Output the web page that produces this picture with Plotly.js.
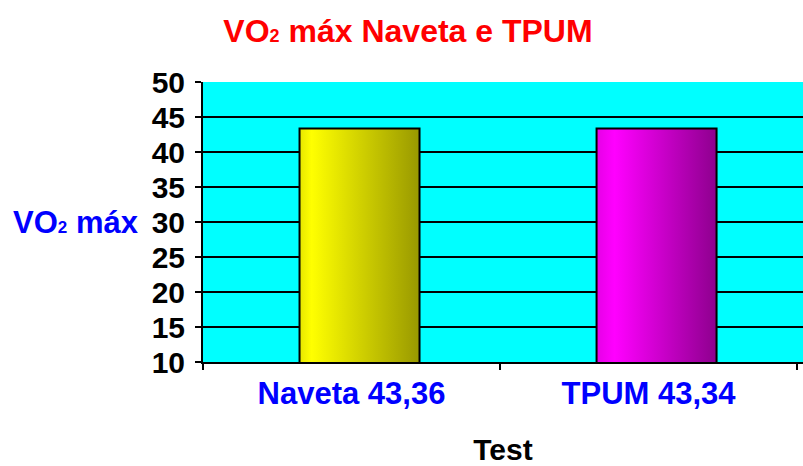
<!DOCTYPE html>
<html>
<head>
<meta charset="utf-8">
<script src="https://cdn.plot.ly/plotly-3.0.1.min.js"></script>
<style>html,body{margin:0;padding:0;background:#fff;}#chart{width:803px;height:466px;}</style>
</head>
<body>
<div id="chart"></div>
<script>
// Data
const categories = ["Naveta 43,36", "TPUM 43,34"];
const values = [43.36, 43.34];
const yTickVals = [10, 15, 20, 25, 30, 35, 40, 45, 50];
const barColors = ["#FFFF00", "#FF00FF"];

const FONT = "Liberation Sans, Arial, sans-serif";

const trace = {
  type: "bar",
  x: categories,
  y: values,
  width: 0.404,
  offset: -0.175,
  marker: { color: barColors, line: { color: "#000000", width: 2 } },
  hoverinfo: "none"
};

const layout = {
  width: 803, height: 466,
  margin: { l: 203, r: 0, t: 82, b: 104, pad: 0 },
  paper_bgcolor: "#FFFFFF",
  plot_bgcolor: "#00FFFF",
  showlegend: false,
  bargap: 0,
  title: {
    text: "VO<span style='font-size:18px'>2</span> máx Naveta e TPUM",
    font: { family: FONT, size: 32, color: "#FF0000", weight: "bold" },
    x: 408 / 803, xanchor: "center", xref: "container",
    y: 1 - 31 / 466, yanchor: "middle", yref: "container"
  },
  xaxis: {
    type: "category",
    range: [-0.5, 1.52],
    tickson: "boundaries",
    ticks: "outside", ticklen: 6, tickwidth: 2, tickcolor: "#000",
    showgrid: false,
    showline: true, linecolor: "#000", linewidth: 2,
    ticklabelstandoff: 3,
    tickfont: { family: FONT, size: 31, color: "#0000FF", weight: "bold" },
    title: { text: "Test", font: { family: FONT, size: 30, color: "#000", weight: "bold" }, standoff: 31 },
    fixedrange: true
  },
  yaxis: {
    range: [10, 50],
    tickvals: yTickVals,
    ticks: "outside", ticklen: 6, tickwidth: 2, tickcolor: "#000",
    showgrid: true, gridcolor: "#000", gridwidth: 2,
    zeroline: false,
    showline: true, linecolor: "#000", linewidth: 2,
    ticklabelstandoff: 4,
    tickfont: { family: FONT, size: 30, color: "#000", weight: "bold" },
    fixedrange: true
  },
  annotations: [{
    text: "VO<span style='font-size:17px'>2</span> máx",
    xref: "paper", yref: "paper",
    x: (76 - 203) / 600, y: 0.5, xanchor: "center", yanchor: "middle",
    showarrow: false,
    font: { family: FONT, size: 31, color: "#0000FF", weight: "bold" }
  }]
};

Plotly.newPlot("chart", [trace], layout, { staticPlot: true, displayModeBar: false }).then(function (gd) {
  // Horizontal shading on bars (style only)
  const svg = gd.querySelector("svg.main-svg");
  const NS = "http://www.w3.org/2000/svg";
  let defs = svg.querySelector("defs");
  if (!defs) { defs = document.createElementNS(NS, "defs"); svg.insertBefore(defs, svg.firstChild); }
  const grads = [
    ["gradBar0", [[0, "#E6E600"], [0.1, "#FFFF00"], [1, "#999900"]]],
    ["gradBar1", [[0, "#E600E6"], [0.15, "#FF00FF"], [1, "#8E008E"]]]
  ];
  grads.forEach(function (g) {
    const lg = document.createElementNS(NS, "linearGradient");
    lg.setAttribute("id", g[0]);
    lg.setAttribute("x1", "0"); lg.setAttribute("y1", "0");
    lg.setAttribute("x2", "1"); lg.setAttribute("y2", "0");
    g[1].forEach(function (s) {
      const st = document.createElementNS(NS, "stop");
      st.setAttribute("offset", s[0]);
      st.setAttribute("stop-color", s[1]);
      lg.appendChild(st);
    });
    defs.appendChild(lg);
  });
  gd.querySelectorAll(".barlayer .point path").forEach(function (p, i) {
    p.style.fill = "url(#gradBar" + i + ")";
  });
});
</script>
</body>
</html>
